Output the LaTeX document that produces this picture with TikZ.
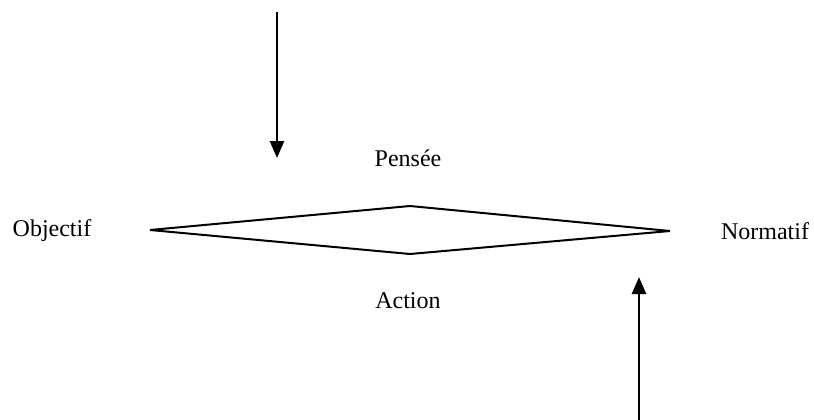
\documentclass[tikz,border=0pt]{standalone}
\usepackage{fontspec}
\setmainfont{Liberation Serif}
\usetikzlibrary{arrows.meta}
\begin{document}
\begin{tikzpicture}[x=1pt,y=-1pt,
  lbl/.style={font=\fontsize{24}{28}\selectfont, inner sep=0pt},
  arr/.style={line width=2.6pt, -{Triangle[width=14pt,length=17pt]}},
  dia/.style={line width=2pt, line join=miter}]
\useasboundingbox (0,0) rectangle (814,420);
\coordinate (L) at (150,230);
\coordinate (T) at (410,206);
\coordinate (R) at (670,231);
\coordinate (B) at (410,254);
\draw[dia] (L) -- (T) -- (R) -- (B) -- cycle;
\node[lbl] (pensee) at (408,158) {Pensée};
\node[lbl] (action) at (408,301) {Action};
\node[lbl] (obj) at (52,231) {Objectif};
\node[lbl] (norm) at (765,231) {Normatif};
\coordinate (a1s) at (277,12);
\coordinate (a1e) at (277,158);
\coordinate (a2s) at (639,420);
\coordinate (a2e) at (639,277);
\draw[arr] (a1s) -- (a1e);
\draw[arr] (a2s) -- (a2e);
\end{tikzpicture}
\end{document}
